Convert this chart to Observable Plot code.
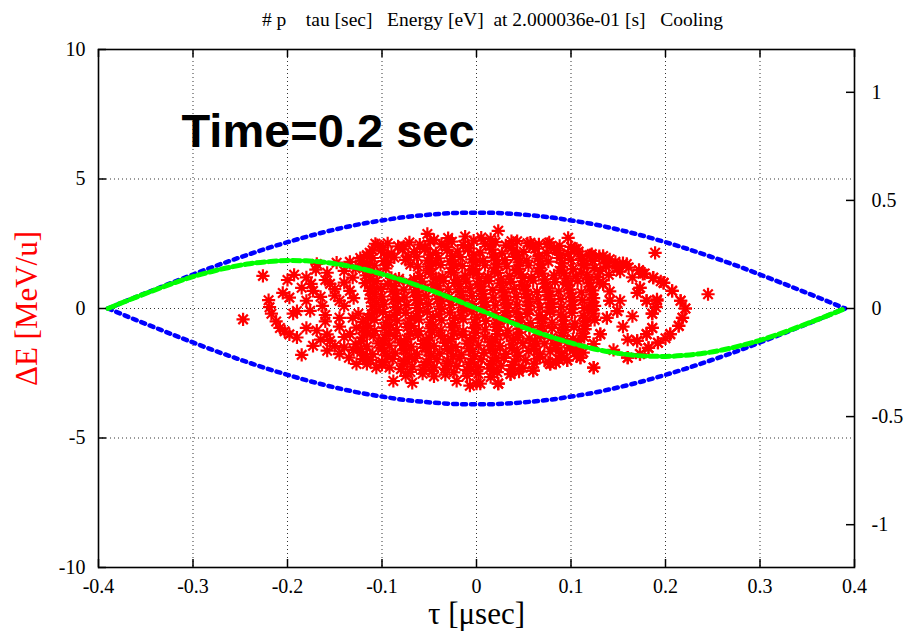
<!DOCTYPE html>
<html>
<head>
<meta charset="utf-8">
<script src="https://cdn.jsdelivr.net/npm/d3@7"></script>
<script src="https://cdn.jsdelivr.net/npm/@observablehq/plot@0.6"></script>
<style>
  html, body { margin: 0; padding: 0; background: #fff; }
  svg text { white-space: pre; }
</style>
</head>
<body>
<div id="chart"></div>
<script>
const titleText = "# p    tau [sec]   Energy [eV]  at 2.000036e-01 [s]   Cooling";
const timeText = "Time=0.2 sec";
const xLabel = "τ [μsec]";
const yLabel = "ΔE [MeV/u]";

const xTicks = [-0.4, -0.3, -0.2, -0.1, 0, 0.1, 0.2, 0.3, 0.4];
const yTicks = [-10, -5, 0, 5, 10];
const rightTicks = [-1, -0.5, 0, 0.5, 1];
const rightMax = 1.198;
const xDomain = [-0.4, 0.4];
const yDomain = [-10, 10];

// separatrix (blue) and RF-phase curve (green)
const curveTau = [-0.39,-0.38,-0.36,-0.34,-0.32,-0.30,-0.28,-0.26,-0.24,-0.22,-0.20,-0.18,-0.16,-0.14,-0.12,-0.10,-0.08,-0.06,-0.04,-0.02,0,
  0.02,0.04,0.06,0.08,0.10,0.12,0.14,0.16,0.18,0.20,0.22,0.24,0.26,0.28,0.30,0.32,0.34,0.36,0.38,0.39];
const sepUpper = [0,0.15,0.45,0.74,1.03,1.31,1.59,1.85,2.10,2.34,2.56,2.77,2.96,3.13,3.28,3.40,3.51,3.59,3.65,3.69,3.70,
  3.69,3.65,3.59,3.51,3.40,3.28,3.13,2.96,2.77,2.56,2.34,2.10,1.85,1.59,1.31,1.03,0.74,0.45,0.15,0];
const sepLower = [0,-0.15,-0.45,-0.74,-1.03,-1.31,-1.59,-1.85,-2.10,-2.34,-2.56,-2.77,-2.96,-3.13,-3.28,-3.40,-3.51,-3.59,-3.65,-3.69,-3.70,
  -3.69,-3.65,-3.59,-3.51,-3.40,-3.28,-3.13,-2.96,-2.77,-2.56,-2.34,-2.10,-1.85,-1.59,-1.31,-1.03,-0.74,-0.45,-0.15,0];
const rfCurve = [0,0.15,0.44,0.72,0.99,1.23,1.43,1.60,1.73,1.81,1.85,1.84,1.78,1.67,1.52,1.33,1.11,0.86,0.59,0.30,0,
  -0.30,-0.59,-0.86,-1.11,-1.33,-1.52,-1.67,-1.78,-1.84,-1.85,-1.81,-1.73,-1.60,-1.43,-1.23,-0.99,-0.72,-0.44,-0.15,0];

// macro-particles [tau (μs), ΔE (MeV/u)]
const particles = [
[-0.052,2.88],[-0.03,2.72],[-0.012,2.78],[0.005,2.74],[0.023,3.0],[0.097,2.73],[-0.045,2.65],[0.015,2.68],
[-0.105,2.45],[-0.094,2.52],[-0.083,2.4],[-0.071,2.55],[-0.06,2.47],[-0.049,2.6],[-0.037,2.5],[-0.026,2.58],[-0.014,2.45],[-0.003,2.62],[0.009,2.5],[0.02,2.56],[0.031,2.44],[0.043,2.6],[0.054,2.52],[0.066,2.48],[0.077,2.55],[0.088,2.42],[0.1,2.38],
[-0.113,2.15],[-0.101,2.24],[-0.09,2.12],[-0.078,2.28],[-0.066,2.18],[-0.055,2.3],[-0.043,2.14],[-0.031,2.26],[-0.02,2.2],[-0.008,2.32],[0.004,2.16],[0.016,2.27],[0.027,2.13],[0.039,2.25],[0.05,2.19],[0.062,2.31],[0.074,2.15],[0.085,2.24],[0.097,2.12],[0.108,2.2],[0.12,2.06],
[-0.122,1.86],[-0.11,1.95],[-0.098,1.83],[-0.087,1.97],[-0.075,1.88],[-0.063,2.0],[-0.052,1.85],[-0.04,1.94],[-0.028,1.82],[-0.017,1.98],[-0.005,1.9],[0.007,1.84],[0.018,1.96],[0.03,1.87],[0.041,1.99],[0.053,1.85],[0.065,1.93],[0.076,1.81],[0.088,1.95],[0.1,1.88],[0.111,1.92],[0.123,1.84],[0.135,1.9],[0.147,1.8],[0.159,1.72],
[-0.12,1.58],[-0.108,1.66],[-0.096,1.55],[-0.062,1.62],[-0.05,1.54],[-0.038,1.68],[-0.026,1.57],[-0.015,1.64],[-0.003,1.52],[0.009,1.67],[0.02,1.59],[0.032,1.63],[0.044,1.53],[0.055,1.66],[0.067,1.57],[0.09,1.6],[0.102,1.52],[0.114,1.65],[0.125,1.56],[0.137,1.62],[0.149,1.54],[0.161,1.58],[0.172,1.48],
[-0.117,1.28],[-0.105,1.36],[-0.06,1.25],[-0.048,1.33],[-0.036,1.22],[-0.024,1.38],[-0.012,1.27],[0,1.34],[0.012,1.23],[0.023,1.37],[0.035,1.26],[0.047,1.32],[0.058,1.21],[0.07,1.35],[0.082,1.28],[0.093,1.36],[0.105,1.24],[0.117,1.31],[0.128,1.22],[0.14,1.3],[0.176,1.34],[0.187,1.19],[-0.082,1.15],
[-0.118,0.98],[-0.106,1.06],[-0.094,0.95],[-0.082,1.08],[-0.07,0.97],[-0.058,1.04],[-0.046,0.92],[-0.035,1.07],[-0.023,0.99],[-0.011,1.05],[0.001,0.93],[0.013,1.06],[0.025,0.97],[0.036,1.03],[0.048,0.91],[0.06,1.08],[0.072,0.96],[0.083,1.02],[0.095,0.94],[0.107,1.06],[0.119,0.98],[0.13,1.01],[0.134,0.94],[0.173,0.8],[0.198,0.99],
[-0.113,0.68],[-0.101,0.76],[-0.089,0.65],[-0.077,0.73],[-0.066,0.62],[-0.054,0.77],[-0.042,0.67],[-0.03,0.74],[-0.018,0.63],[-0.007,0.78],[0.005,0.66],[0.017,0.72],[0.029,0.61],[0.04,0.75],[0.052,0.69],[0.064,0.64],[0.076,0.77],[0.087,0.66],[0.099,0.73],[0.111,0.62],[0.123,0.7],[0.141,0.66],[0.207,0.68],
[-0.112,0.38],[-0.1,0.46],[-0.088,0.35],[-0.076,0.43],[-0.064,0.32],[-0.053,0.47],[-0.041,0.37],[-0.029,0.44],[-0.017,0.33],[-0.005,0.48],[0.006,0.36],[0.018,0.42],[0.03,0.31],[0.042,0.45],[0.054,0.39],[0.065,0.34],[0.077,0.47],[0.089,0.36],[0.101,0.43],[0.112,0.32],[0.124,0.4],[0.141,0.3],[0.18,0.3],[0.191,0.35],[0.216,0.3],
[-0.11,0.08],[-0.098,0.16],[-0.086,0.05],[-0.074,0.13],[-0.063,0.02],[-0.051,0.17],[-0.039,0.07],[-0.027,0.14],[-0.015,0.03],[-0.004,0.18],[0.008,0.06],[0.02,0.12],[0.032,0.01],[0.043,0.15],[0.055,0.09],[0.067,0.04],[0.079,0.17],[0.09,0.06],[0.102,0.13],[0.114,0.02],[0.125,0.1],[0.149,-0.1],[0.221,0.0],[0.19,0.05],
[-0.111,-0.22],[-0.099,-0.14],[-0.087,-0.25],[-0.075,-0.17],[-0.064,-0.28],[-0.052,-0.13],[-0.04,-0.23],[-0.028,-0.16],[-0.016,-0.27],[-0.005,-0.12],[0.007,-0.24],[0.019,-0.18],[0.031,-0.29],[0.042,-0.15],[0.054,-0.21],[0.066,-0.26],[0.078,-0.13],[0.089,-0.24],[0.101,-0.17],[0.113,-0.28],[0.124,-0.2],[0.186,-0.2],[0.218,-0.36],
[-0.12,-0.52],[-0.108,-0.44],[-0.096,-0.55],[-0.084,-0.47],[-0.073,-0.58],[-0.061,-0.43],[-0.049,-0.53],[-0.037,-0.46],[-0.025,-0.57],[-0.014,-0.42],[-0.002,-0.54],[0.01,-0.48],[0.022,-0.59],[0.033,-0.45],[0.045,-0.51],[0.057,-0.56],[0.069,-0.43],[0.08,-0.54],[0.092,-0.47],[0.104,-0.58],[0.115,-0.5],[0.125,-0.44],[0.138,-0.36],[0.214,-0.67],
[-0.12,-0.78],[-0.108,-0.86],[-0.097,-0.75],[-0.085,-0.83],[-0.073,-0.72],[-0.061,-0.87],[-0.049,-0.77],[-0.038,-0.84],[-0.026,-0.73],[-0.014,-0.88],[-0.002,-0.76],[0.009,-0.82],[0.021,-0.71],[0.033,-0.85],[0.045,-0.79],[0.056,-0.74],[0.068,-0.87],[0.08,-0.76],[0.092,-0.83],[0.103,-0.72],[0.115,-0.8],[0.186,-0.75],
[-0.121,-1.12],[-0.109,-1.04],[-0.097,-1.15],[-0.086,-1.07],[-0.074,-1.18],[-0.062,-1.03],[-0.05,-1.13],[-0.038,-1.06],[-0.027,-1.17],[-0.015,-1.02],[-0.003,-1.14],[0.009,-1.08],[0.02,-1.19],[0.032,-1.05],[0.044,-1.11],[0.056,-1.16],[0.067,-1.03],[0.079,-1.14],[0.091,-1.07],[0.102,-1.18],[0.114,-1.1],[0.131,-0.99],[0.18,-0.99],[0.205,-0.99],
[-0.128,-1.38],[-0.116,-1.46],[-0.104,-1.35],[-0.092,-1.43],[-0.081,-1.32],[-0.069,-1.47],[-0.057,-1.37],[-0.045,-1.44],[-0.033,-1.33],[-0.022,-1.48],[-0.01,-1.36],[0.002,-1.42],[0.014,-1.31],[0.025,-1.45],[0.037,-1.39],[0.049,-1.34],[0.061,-1.47],[0.072,-1.36],[0.084,-1.43],[0.096,-1.32],[0.108,-1.4],[0.124,-1.37],[0.17,-1.25],[0.192,-1.32],
[-0.122,-1.68],[-0.11,-1.76],[-0.098,-1.65],[-0.086,-1.73],[-0.075,-1.62],[-0.063,-1.77],[-0.051,-1.67],[-0.039,-1.74],[-0.027,-1.63],[-0.016,-1.78],[-0.004,-1.66],[0.008,-1.72],[0.02,-1.61],[0.031,-1.75],[0.043,-1.69],[0.055,-1.64],[0.067,-1.77],[0.078,-1.66],[0.09,-1.73],[0.102,-1.62],[0.113,-1.7],[0.099,-1.52],[0.182,-1.52],[0.173,-1.76],
[-0.112,-1.98],[-0.1,-2.06],[-0.089,-1.95],[-0.077,-2.03],[-0.065,-1.92],[-0.053,-2.07],[-0.042,-1.97],[-0.03,-2.04],[-0.018,-1.93],[-0.006,-2.08],[0.005,-1.96],[0.017,-2.02],[0.029,-1.91],[0.04,-2.05],[0.052,-1.99],[0.064,-1.94],[0.076,-2.07],[0.087,-1.96],[0.096,-2.0],[0.11,-1.9],[0.16,-1.9],
[-0.106,-2.28],[-0.092,-2.28],[-0.08,-2.34],[-0.068,-2.24],[-0.057,-2.36],[-0.045,-2.27],[-0.033,-2.33],[-0.021,-2.22],[-0.01,-2.37],[0.002,-2.26],[0.014,-2.32],[0.026,-2.21],[0.037,-2.35],[0.049,-2.29],[0.06,-2.4],[0.078,-2.14],[0.124,-2.28],
[-0.088,-2.8],[-0.068,-2.87],[-0.075,-2.6],[-0.057,-2.52],[-0.045,-2.62],[-0.033,-2.55],[-0.021,-2.8],[-0.007,-2.98],[0.004,-2.9],[-0.01,-2.6],[0.002,-2.52],[0.015,-2.65],[0.023,-2.9],[0.036,-2.53],[0.018,-2.4],
[-0.099,2.36],[-0.077,2.4],[-0.054,2.33],[-0.032,2.38],[-0.009,2.35],[0.014,2.41],[0.037,2.34],[0.06,2.39],[0.082,2.33],[0.104,2.3],
[-0.116,2.02],[-0.094,2.06],[-0.072,2.0],[-0.049,2.08],[-0.026,2.03],[-0.003,2.07],[0.02,2.01],[0.043,2.06],[0.066,2.02],[0.089,2.07],[0.112,2.0],[0.13,2.02],
[-0.115,1.72],[-0.093,1.78],[-0.07,1.7],[-0.047,1.76],[-0.024,1.71],[-0.001,1.77],[0.022,1.72],[0.045,1.78],[0.068,1.7],[0.091,1.76],[0.114,1.71],[0.137,1.74],
[-0.113,1.43],[-0.05,1.47],[-0.027,1.41],[-0.004,1.46],[0.019,1.42],[0.042,1.48],[0.065,1.43],[0.088,1.46],[0.111,1.4],[0.131,1.45],[0.152,1.42],
[-0.112,1.12],[-0.09,1.18],[-0.066,1.13],[-0.043,1.17],[-0.02,1.11],[0.003,1.16],[0.026,1.12],[0.049,1.18],[0.072,1.13],[0.095,1.16],[0.118,1.12],
[-0.11,0.83],[-0.087,0.87],[-0.064,0.82],[-0.041,0.88],[-0.018,0.84],[0.005,0.86],[0.028,0.81],[0.051,0.87],[0.074,0.83],[0.097,0.88],[0.12,0.84],
[-0.108,0.53],[-0.085,0.57],[-0.062,0.52],[-0.039,0.58],[-0.016,0.54],[0.007,0.56],[0.03,0.51],[0.053,0.57],[0.076,0.53],[0.099,0.58],[0.122,0.54],
[-0.106,0.23],[-0.083,0.27],[-0.06,0.22],[-0.037,0.28],[-0.014,0.24],[0.009,0.26],[0.032,0.21],[0.055,0.27],[0.078,0.23],[0.101,0.28],[0.122,0.24],
[-0.106,-0.07],[-0.083,-0.03],[-0.06,-0.08],[-0.037,-0.02],[-0.014,-0.06],[0.009,-0.04],[0.032,-0.09],[0.055,-0.03],[0.078,-0.07],[0.101,-0.02],[0.122,-0.06],
[-0.115,-0.37],[-0.092,-0.33],[-0.069,-0.38],[-0.046,-0.32],[-0.023,-0.36],[0.0,-0.34],[0.023,-0.39],[0.046,-0.33],[0.069,-0.37],[0.092,-0.32],[0.115,-0.36],
[-0.115,-0.67],[-0.092,-0.63],[-0.069,-0.68],[-0.046,-0.62],[-0.023,-0.66],[0.0,-0.64],[0.023,-0.69],[0.046,-0.63],[0.069,-0.67],[0.092,-0.62],[0.115,-0.66],
[-0.116,-0.97],[-0.093,-0.93],[-0.07,-0.98],[-0.047,-0.92],[-0.024,-0.96],[-0.001,-0.94],[0.022,-0.99],[0.045,-0.93],[0.068,-0.97],[0.091,-0.92],[0.112,-0.96],
[-0.122,-1.27],[-0.099,-1.23],[-0.076,-1.28],[-0.053,-1.22],[-0.03,-1.26],[-0.007,-1.24],[0.016,-1.29],[0.039,-1.23],[0.062,-1.27],[0.085,-1.22],[0.108,-1.26],
[-0.123,-1.57],[-0.1,-1.53],[-0.077,-1.58],[-0.054,-1.52],[-0.031,-1.56],[-0.008,-1.54],[0.015,-1.59],[0.038,-1.53],[0.061,-1.57],[0.084,-1.52],[0.107,-1.56],
[-0.117,-1.87],[-0.094,-1.83],[-0.071,-1.88],[-0.048,-1.82],[-0.025,-1.86],[-0.002,-1.84],[0.021,-1.89],[0.044,-1.83],[0.067,-1.87],[0.09,-1.82],[0.106,-1.84],
[-0.1,-2.17],[-0.077,-2.13],[-0.054,-2.18],[-0.031,-2.12],[-0.008,-2.16],[0.015,-2.14],[0.038,-2.19],[0.061,-2.13],[0.084,-2.1],
[-0.07,-2.45],[-0.047,-2.42],[-0.024,-2.47],[-0.001,-2.43],[0.022,-2.46],[0.045,-2.44],
[-0.247,-0.42],[-0.226,1.26],[-0.22,0.32],[-0.219,0.05],[-0.217,-0.2],[-0.212,-0.5],[-0.208,-0.75],[-0.203,-0.88],[-0.198,-1.0],[-0.19,-1.12],[-0.185,-1.79],[-0.173,-1.44],[-0.2,1.1],[-0.193,1.3],[-0.198,0.42],[-0.19,-0.1],[-0.194,-0.2],[-0.18,1.2],[-0.169,1.72],[-0.158,1.38],[-0.148,1.77],[-0.134,1.8],[-0.123,1.95],[-0.116,2.06],[-0.11,2.25],[-0.107,2.5],[-0.18,0.3],[-0.176,-0.09],[-0.173,0.68],[-0.18,-0.75],[-0.169,-0.85],[-0.158,-1.0],[-0.158,-1.63],[-0.145,0.3],[-0.145,-0.36],[-0.131,-0.36],[-0.127,-0.74],[-0.145,-1.76],[-0.127,-2.14],[-0.116,-2.14],[-0.155,-1.25],[-0.134,-0.99],[-0.134,0.68],[-0.131,1.19],[-0.14,1.0],[-0.15,0.5],[-0.163,0.1],[-0.14,-1.5],[-0.135,-1.9],[-0.185,0.8],[-0.165,0.45],[-0.155,0.95],[-0.14,1.45],[-0.128,1.55],[-0.16,-0.5],[-0.145,-0.7],
[-0.17,1.5],[-0.16,1.1],[-0.15,0.75],[-0.14,0.1],[-0.125,-0.2],[-0.13,0.4],[-0.12,-1.95],[-0.15,-1.45],[-0.165,-1.2],[-0.175,0.95],[-0.205,0.6],[-0.16,-0.25],[-0.14,-1.1],[-0.13,-1.6],
[0.189,2.15],[0.245,0.55],[0.187,1.19],[0.198,0.99],[0.207,0.68],[0.216,0.3],[0.221,0.0],[0.218,-0.36],[0.214,-0.67],[0.205,-0.99],[0.192,-1.32],[0.182,-1.52],[0.173,-1.76],[0.16,-1.9],[0.173,0.8],[0.18,0.3],[0.186,-0.2],[0.186,-0.75],[0.18,-0.99],[0.17,-1.25],[0.191,0.3],[0.134,0.94],[0.141,0.3],[0.138,-0.36],[0.131,-0.99],[0.124,-1.37],[0.149,-0.1],[0.152,0.3],[0.122,2.1],[0.134,2.03],[0.141,1.9],[0.172,1.48],[0.106,2.3],[0.075,2.5],[0.057,2.54],[0.037,2.6],[0.11,-1.9],[0.124,-2.28],[0.096,-2.0],[0.078,-2.14],[0.06,-2.4],[0.036,-2.53],[0.018,-2.4],[0.0,-2.9],[0.023,-2.9],[0.145,-1.6],[0.15,1.6],[0.165,1.2],[0.16,-1.2],[0.155,-0.7],[0.165,-0.3],[0.17,0.6],[0.2,-1.15],[0.195,1.05],[0.178,1.35],[0.155,1.75]
];

// gnuplot-style asterisk (+ and x)
const star = {
  draw(context, size) {
    const r = Math.sqrt(size / Math.PI);
    const d = r * 0.72;
    context.moveTo(-r, 0); context.lineTo(r, 0);
    context.moveTo(0, -r); context.lineTo(0, r);
    context.moveTo(-d, -d); context.lineTo(d, d);
    context.moveTo(-d, d); context.lineTo(d, -d);
  }
};

const W = 908, H = 636, ML = 98, MR = 54, MT = 49, MB = 69;
const plotW = W - ML - MR, plotH = H - MT - MB;
const tickLen = 8;
const yMax = yDomain[1];
const rightPos = rightTicks.map(v => v * yMax / rightMax);

const sepU = curveTau.map((t, i) => ({t, e: sepUpper[i]}));
const sepL = curveTau.map((t, i) => ({t, e: sepLower[i]}));
const rf = curveTau.map((t, i) => ({t, e: rfCurve[i]}));

const chart = Plot.plot({
  width: W, height: H,
  marginLeft: ML, marginRight: MR, marginTop: MT, marginBottom: MB,
  style: {fontFamily: "'Liberation Serif', 'Times New Roman', serif", fontSize: "20px", background: "#fff", color: "#000"},
  x: {domain: xDomain},
  y: {domain: yDomain},
  marks: [
    // grid
    Plot.ruleX(xTicks.slice(1, -1), {stroke: "#000", strokeWidth: 1, strokeDasharray: "1,3", strokeOpacity: 0.8}),
    Plot.ruleY(yTicks.slice(1, -1), {stroke: "#000", strokeWidth: 1, strokeDasharray: "1,3", strokeOpacity: 0.8}),
    // particles
    Plot.dot(particles, {x: d => d[0], y: d => d[1], symbol: star, r: 6.6, stroke: "#ff0000", strokeWidth: 2.2, fill: "none"}),
    // separatrix
    Plot.line(sepU, {x: "t", y: "e", stroke: "#0000ff", strokeWidth: 4.5, strokeDasharray: "4,5", curve: "monotone-x"}),
    Plot.line(sepL, {x: "t", y: "e", stroke: "#0000ff", strokeWidth: 4.5, strokeDasharray: "4,5", curve: "monotone-x"}),
    // rf curve
    Plot.line(rf, {x: "t", y: "e", stroke: "#00ff00", strokeWidth: 5, strokeDasharray: "8,4", curve: "monotone-x"}),
    // inward ticks
    Plot.ruleY(yTicks, {stroke: "#000", strokeWidth: 1.5, insetRight: plotW - tickLen}),
    Plot.ruleY(rightPos, {stroke: "#000", strokeWidth: 1.5, insetLeft: plotW - tickLen}),
    Plot.ruleX(xTicks, {stroke: "#000", strokeWidth: 1.5, insetTop: plotH - tickLen}),
    Plot.ruleX(xTicks, {stroke: "#000", strokeWidth: 1.5, insetBottom: plotH - tickLen}),
    // axes labels
    Plot.axisX({ticks: xTicks, tickSize: 0, tickPadding: 11, tickFormat: d => String(d), label: null}),
    Plot.axisY({anchor: "left", ticks: yTicks, tickSize: 0, tickPadding: 13, tickFormat: d => String(d), label: null}),
    Plot.axisY({anchor: "right", ticks: rightPos, tickSize: 0, tickPadding: 17, tickFormat: d => String(+(d * rightMax / yMax).toFixed(2)), label: null}),
    Plot.frame({stroke: "#000", strokeWidth: 1.6}),
    // texts
    Plot.text([titleText], {text: d => d, frameAnchor: "top", dx: 16, dy: -37, fontSize: 19.5}),
    Plot.text([timeText], {text: d => d, frameAnchor: "top-left", textAnchor: "start", dx: 83, dy: 64, fontSize: 47, fontWeight: "bold", fontFamily: "'Liberation Sans', Arial, sans-serif"}),
    Plot.text([yLabel], {text: d => d, frameAnchor: "left", textAnchor: "middle", dx: -71, rotate: -90, fontSize: 31, fill: "#ff0000"}),
    Plot.text([xLabel], {text: d => d, frameAnchor: "bottom", textAnchor: "middle", dy: 56, fontSize: 31})
  ]
});
document.getElementById("chart").appendChild(chart);
</script>
</body>
</html>
